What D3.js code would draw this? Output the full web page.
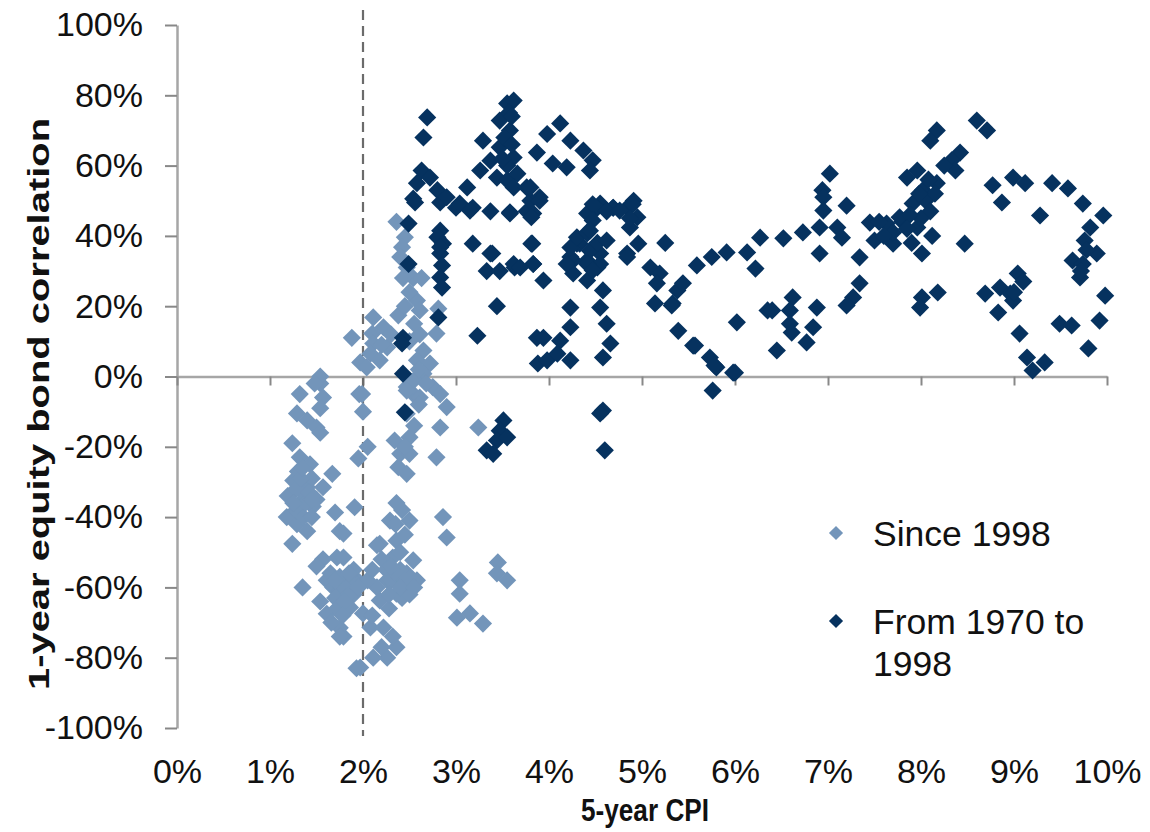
<!DOCTYPE html>
<html>
<head>
<meta charset="utf-8">
<script src="https://cdn.jsdelivr.net/npm/d3@7"></script>
<style>
  html, body { margin: 0; padding: 0; background: #fff; }
  svg { display: block; font-family: "Liberation Sans", Arial, sans-serif; }
</style>
</head>
<body>
<svg id="chart" width="1150" height="832"></svg>
<script>
// ---- DATA (x = 5-year CPI %, y = 1-year equity/bond correlation %) ----
const xTicks = [0, 1, 2, 3, 4, 5, 6, 7, 8, 9, 10];
const yTicks = [-100, -80, -60, -40, -20, 0, 20, 40, 60, 80, 100];
const seriesNames = ["Since 1998", "From 1970 to 1998"];

const since1998 = [
  [1.54,-2],[1.32,-5],[1.57,-6],[1.54,-9],[1.29,-10.5],[1.40,-12.5],[1.50,-14.5],[1.54,-16],[1.24,-19],[1.32,-23],
  [1.43,-25],[1.67,-27.7],[1.25,-29.6],[1.40,-31.5],[1.57,-31.5],[1.19,-34],[1.32,-36],[1.46,-37],[1.70,-38.7],[1.18,-40],
  [1.29,-42],[1.40,-44],[1.75,-44],[1.24,-47.6],[1.57,-52],[1.72,-51.5],[1.50,-54],[1.35,-60],[1.61,-58],[1.83,-58],
  [1.54,-64],[1.68,-60],[1.61,-67.5],[1.75,-71.5],[1.79,-74],[1.94,-58],[1.90,-62],[1.93,-83],
  [1.88,11],[1.54,0],[1.48,-2],[1.97,4],[1.96,-5],
  [2.36,44],[2.45,39.6],[2.42,36.8],[2.40,34],[2.47,31],[2.54,28],[2.63,28],[2.43,28],[2.58,21.6],[2.61,18.8],
  [2.81,19.3],[2.11,16.8],[2.38,17.4],[2.22,14],[2.10,12.2],[2.79,12.2],[2.61,12],[2.11,9.4],[2.26,8.3],[2.65,7.4],
  [2.58,4.6],[2.08,6.5],[2.18,4.6],[2.04,2.6],[2.72,3.7],[2.65,0.8],[2.75,-3],[2.47,-3],[2.54,-5],[2.83,-5],[1.99,-5],
  [2.0,-10],[2.47,-4],[2.61,-6],[2.90,-8.7],[2.47,-10.6],[2.83,-14.5],[3.24,-14.5],[2.34,-18.2],[2.50,-17.3],[2.40,-22],
  [2.38,-25.8],[2.47,-27.7],[2.79,-23],[1.95,-23.3],[1.91,-37.2],[2.36,-36],[2.29,-41],[2.50,-41],[2.86,-40],[2.90,-45.8],
  [2.18,-47.6],[2.36,-46.7],[2.32,-51.5],[2.54,-52.3],[2.47,-56],[2.26,-58],[2.58,-58],[2.15,-60],[1.89,-58],[1.75,-61],
  [2.36,-61.8],[2.18,-63.7],[1.86,-65.7],[2.0,-67.4],[2.08,-71.4],[2.22,-71.4],[1.75,-74],[2.36,-77],[2.26,-80],[2.11,-80],
  [1.97,-82.8],[3.04,-58],[3.04,-61.8],[3.01,-68.6],[3.15,-67.4],[3.29,-70.3],[3.45,-52.9],[3.44,-56],[3.55,-58],
  [1.79,-44.7],[1.79,-51.5],[1.90,-55],
  [1.30,-27],[1.35,-33],[1.45,-29],[1.28,-38],[1.36,-40],[1.45,-40],[1.50,-35],[1.65,-56],[1.70,-63],[1.80,-60],
  [1.85,-62],[1.72,-66],[1.66,-70],[2.05,-58],[2.10,-55],[2.20,-52],[2.25,-55],[2.30,-58],[2.40,-55],[2.40,-50],
  [2.45,-45],[2.35,-42],[2.42,-38],[2.50,-22],[2.45,-20],[2.55,-14],[2.60,-8],[2.55,-1],[2.60,2],[2.68,-2],
  [2.50,10],[2.55,15],[2.45,20],[2.50,24],[2.30,12],[2.20,9],[2.05,-20],[2.15,-48],[2.48,-60],[2.42,-63],
  [2.28,-66],[2.10,-68],[2.20,-77],[2.32,-74],
  [2.35,-56],[2.45,-58],[2.50,-62],[2.40,-60],[2.55,-60],[2.30,-54],[2.28,-62],
  [1.75,-57],[1.85,-56],[1.80,-64],[1.95,-60],[1.70,-58],[1.78,-68],
  [1.28,-32],[1.33,-29],[1.38,-36],[1.42,-33],[1.25,-36],[1.35,-26],[1.45,-35]
];

const from1970to1998 = [
  [2.49,43.5],[2.83,41.5],[2.80,39.6],[2.86,37.8],[2.83,35],[2.85,31.6],[2.83,28.2],[2.85,25.3],[3.18,37.8],[3.39,35],
  [3.33,30],[3.47,30],[3.63,31],[3.83,32],[3.82,37.8],[2.49,32],[3.44,20],[2.81,16.8],[3.23,11.6],[2.43,11],
  [2.42,9.4],[2.43,0.8],[3.87,11],[3.88,3.7],[2.56,49.5],[2.83,49.5],[3.0,48],[3.18,48],[3.37,47],[3.58,46.7],[3.76,47],
  [2.45,-10.2],[3.51,-12.5],[3.47,-15.4],[3.44,-18.2],[3.33,-21],[3.40,-22],[3.55,-17.3],
  [2.69,73.7],[2.65,68],[2.63,58.6],[2.72,56.6],[2.58,55],[2.54,50.6],[2.80,53],[2.90,51],[3.04,49.2],[3.15,47.2],
  [3.12,53.8],[3.26,58.6],[3.37,61.4],[3.29,67.1],[3.47,65.2],[3.47,72.8],[3.55,77.7],[3.62,78.5],[3.58,70],[3.62,62.3],
  [3.44,56.6],[3.55,55.8],[3.66,57.7],[3.62,53.8],[3.76,53.8],[3.80,50],[3.90,51],[3.83,46.4],[3.58,46.4],[3.87,63.7],
  [3.98,69],[4.12,72],[4.23,67.1],[4.04,60.6],[4.19,59.5],[4.37,64.3],[4.47,61.5],[4.44,58.6],[4.55,49.2],[4.44,46.4],
  [4.69,48],[4.84,48],[4.91,50],[4.41,40.7],[4.30,37.8],[4.26,33],[4.41,33],[4.55,35],[4.52,31],[4.84,35],
  [2.83,36.8],[3.37,35],[3.62,32],
  [3.57,75],[3.60,74],[3.52,68],[3.60,66],[3.55,60],[3.50,62],
  [3.80,53.8],[3.90,50],[3.81,45.3],[3.81,37.8],[3.83,32],[3.94,27.3],[3.69,31],[4.23,19.6],[3.94,11],[4.12,10.2],
  [4.23,14],[3.98,4.6],[4.09,6.5],[4.23,4.6],[4.52,48],[4.69,48],[4.90,49],[4.95,45.3],[4.87,42.4],[4.41,46.4],
  [4.33,37.8],[4.23,34],[4.26,29.3],[4.41,27.3],[4.55,32],[4.58,24.5],[4.55,19.6],[4.62,15],[4.66,9.4],[4.58,5.4],
  [4.58,-9.7],[4.60,-21],[4.96,37.8],[4.84,34],[5.25,38],[5.09,31],[5.19,29.3],[5.16,26.5],[5.38,24.5],[5.44,26.5],
  [5.33,20.8],[5.14,20.8],[5.39,13],[5.55,8.8],[5.73,5.4],[5.80,2.6],[5.98,1.1],[5.76,-4],[5.59,31.6],[5.75,34],
  [5.91,35.3],[6.13,35.3],[6.22,30.7],[6.27,39.5],[6.02,15.4],[6.35,18.8],
  [4.23,36.7],[4.30,39.6],[4.41,41],[4.44,35.8],[4.52,38],[4.62,38.7],[4.41,32],[4.19,32],[4.47,30.2],[4.47,49],
  [4.62,47],[4.76,47.2],[4.87,45],[4.47,44.4],[4.44,41.5],[4.55,-10.5],
  [5.32,20.2],[6.52,39.3],[6.73,41],[6.91,42.4],[7.02,57.7],[6.94,53],[6.95,51],[6.95,47.2],[7.20,48.6],[7.10,42.4],
  [7.15,39.5],[6.91,35],[7.34,33.9],[7.45,43.8],[7.50,38.7],[7.63,43.5],[7.70,37.8],[7.34,26.5],[7.27,22.5],[7.20,20.2],
  [5.57,8.8],[5.78,3.1],[6.0,1.1],[6.40,18.8],[6.62,22.5],[6.59,18.8],[6.59,15],[6.61,12.5],[6.88,19.6],[6.84,14],
  [6.77,9.7],[6.45,7.4],[7.55,44],[7.80,44],
  [8.60,72.8],[8.71,70],[8.17,70],[8.10,67.1],[8.42,63.7],[8.33,61.5],[8.37,58.6],[7.96,58.6],[7.85,56.6],[8.02,53],
  [8.17,55],[7.91,49.2],[7.77,45.3],[7.96,42.4],[7.90,38],[8.12,40],[8.01,35],[8.47,37.8],[8.77,54.4],[8.87,49.5],
  [8.99,56.6],[9.12,55],[9.28,45.8],[9.41,55],[9.58,53.5],[9.74,49.2],[9.96,45.8],[9.82,42.4],[9.76,38.7],[9.63,33],
  [9.74,32],[9.89,35],[9.71,28.2],[8.01,22.5],[8.18,23.9],[7.99,19.6],[8.69,23.6],[8.85,25.3],[8.96,23.6],[9.04,29.3],
  [8.99,21.6],[8.83,18.2],[9.06,12.2],[9.14,5.4],[9.20,1.7],[9.33,4],[9.49,15],[9.62,14.5],[9.80,8],[9.92,15.9],[9.98,23],
  [8.05,50],[8.10,47],[8.00,45],[7.88,46],[8.15,52],[7.98,52],[8.08,56],[7.85,42],[7.70,41],[7.60,40],[8.25,60],
  [9.10,27],[9.00,24],[9.78,36],[9.72,30]
];

const refLineX = 2; // dashed reference line at 2% CPI

// ---- STYLE ----
const colLight = "#7395ba";
const colDark = "#06325f";
const axisCol = "#a6a6a6";
const font = "'Liberation Sans', Arial, sans-serif";

const svg = d3.select("#chart");
const x = d3.scaleLinear().domain([0, 10]).range([177, 1107]);
const y = d3.scaleLinear().domain([-100, 100]).range([728, 25]);

// Y axis
const yAxis = svg.append("g")
  .attr("transform", `translate(${x(0)},0)`)
  .call(d3.axisLeft(y).tickValues(yTicks).tickSize(12).tickSizeOuter(0).tickPadding(22)
    .tickFormat(d => d + "%"));
yAxis.select(".domain").attr("stroke", axisCol).attr("stroke-width", 2.5);
yAxis.selectAll(".tick line").attr("stroke", "#888").attr("stroke-width", 2);
yAxis.selectAll("text").attr("font-size", 34).attr("fill", "#111").attr("font-family", font);

// X axis line at zero with ticks
const xAxis = svg.append("g")
  .attr("transform", `translate(0,${y(0)})`)
  .call(d3.axisBottom(x).tickValues(xTicks).tickSize(9).tickSizeOuter(0).tickFormat(""));
xAxis.select(".domain").attr("stroke", axisCol).attr("stroke-width", 2.5);
xAxis.selectAll(".tick line").attr("stroke", "#888").attr("stroke-width", 2);

// X tick labels along the bottom
const xLab = svg.append("g")
  .attr("transform", `translate(0,${y(-100)})`)
  .call(d3.axisBottom(x).tickValues(xTicks).tickSize(0).tickPadding(31).tickFormat(d => d + "%"));
xLab.select(".domain").remove();
xLab.selectAll("text").attr("font-size", 34).attr("fill", "#111").attr("font-family", font);

// Dashed reference line
svg.append("line")
  .attr("x1", x(refLineX)).attr("x2", x(refLineX))
  .attr("y1", 10).attr("y2", 736)
  .attr("stroke", "#6b6b6b").attr("stroke-width", 2.2)
  .attr("stroke-dasharray", "10,6");

// Diamonds
const diamond = d3.symbol().type(d3.symbolSquare).size(165);
function drawSeries(data, color) {
  svg.append("g").selectAll("path").data(data).join("path")
    .attr("d", diamond)
    .attr("transform", d => `translate(${x(d[0])},${y(d[1])}) rotate(45)`)
    .attr("fill", color);
}
drawSeries(since1998, colLight);
drawSeries(from1970to1998, colDark);

// Axis titles
svg.append("text")
  .attr("transform", `translate(38,404) rotate(-90)`)
  .attr("text-anchor", "middle").attr("dominant-baseline", "central")
  .attr("font-size", 30).attr("font-weight", "bold").attr("fill", "#111")
  .attr("textLength", 572).attr("lengthAdjust", "spacingAndGlyphs")
  .text("1-year equity bond correlation");

svg.append("text")
  .attr("x", 645).attr("y", 821)
  .attr("text-anchor", "middle")
  .attr("font-size", 31).attr("font-weight", "bold").attr("fill", "#111")
  .attr("textLength", 128).attr("lengthAdjust", "spacingAndGlyphs")
  .text("5-year CPI");

// Legend
const legendSym = d3.symbol().type(d3.symbolSquare).size(100);
const leg = svg.append("g").attr("font-size", 35.5).attr("fill", "#111");
leg.append("path").attr("d", legendSym).attr("transform", "translate(836,533) rotate(45)").attr("fill", colLight);
leg.append("text").attr("x", 873).attr("y", 546).text(seriesNames[0]);
leg.append("path").attr("d", legendSym).attr("transform", "translate(836,621) rotate(45)").attr("fill", colDark);
leg.append("text").attr("x", 873).attr("y", 634).text("From 1970 to");
leg.append("text").attr("x", 873).attr("y", 676).text("1998");
</script>
</body>
</html>
